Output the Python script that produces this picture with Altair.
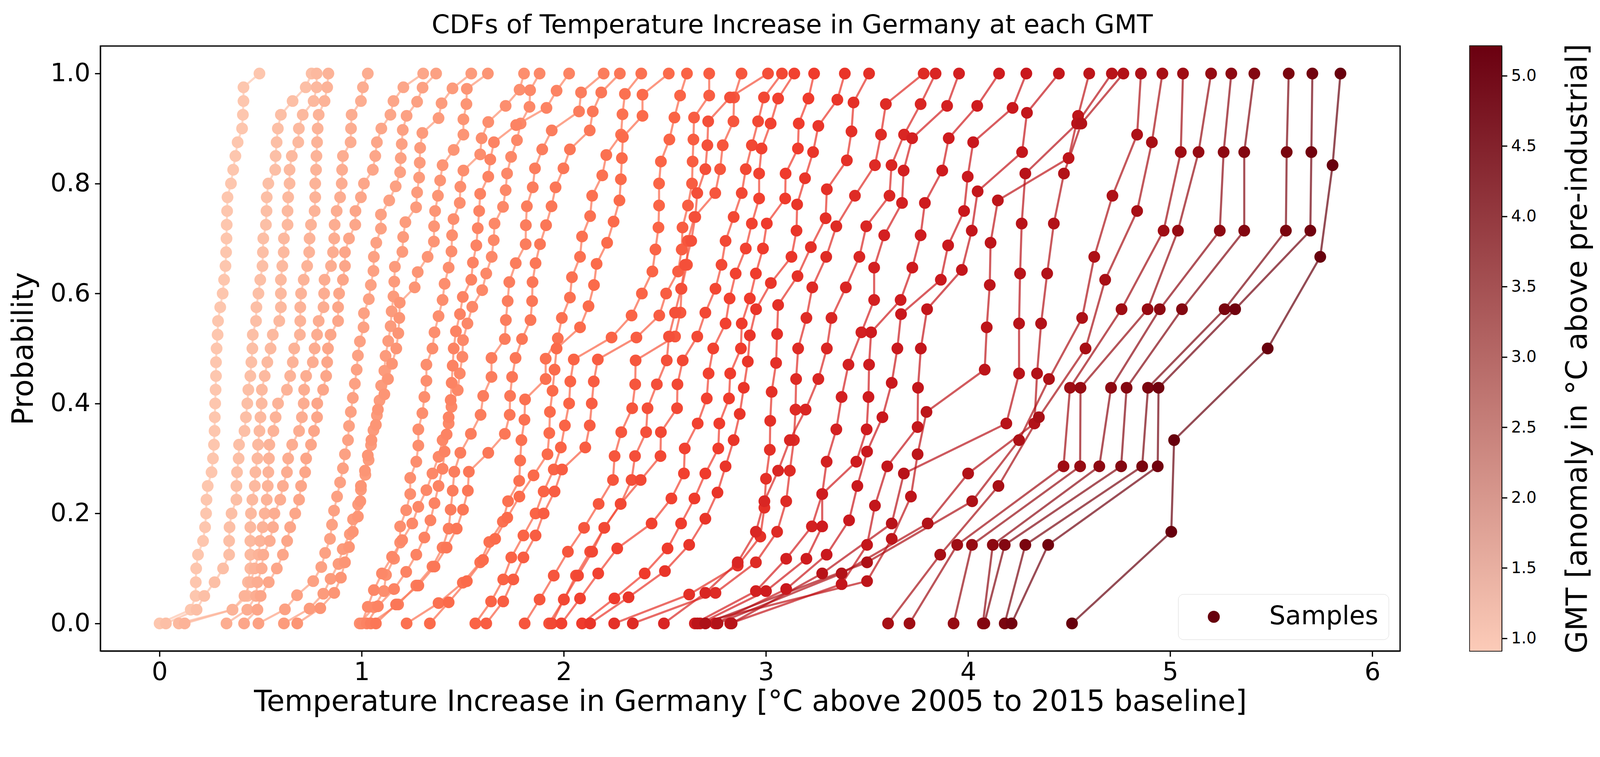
import altair as alt
import pandas as pd

# GMT level of each curve (deg C above pre-industrial)
gmt_levels = [0.91, 1.01, 1.11, 1.21, 1.31, 1.42, 1.52, 1.62, 1.72, 1.83,
              1.93, 2.03, 2.13, 2.23, 2.34, 2.44, 2.54, 2.64, 2.75, 2.85,
              2.95, 3.05, 3.15, 3.26, 3.36, 3.46, 3.56, 3.67, 3.77, 3.87,
              3.97, 4.08, 4.18, 4.28, 4.38, 4.49, 4.59, 4.69, 4.79, 4.90,
              5.00, 5.10, 5.21]

# sorted samples of the temperature increase in Germany, one list per GMT
c01 = [0.0, 0.154, 0.178, 0.179, 0.181, 0.19, 0.215, 0.225, 0.23, 0.232,
       0.238, 0.257, 0.264, 0.269, 0.272, 0.273, 0.275, 0.277, 0.279, 0.279,
       0.282, 0.287, 0.289, 0.30, 0.312, 0.319, 0.326, 0.329, 0.331, 0.332,
       0.334, 0.336, 0.353, 0.364, 0.375, 0.386, 0.408, 0.412, 0.415, 0.415,
       0.494]
c02 = [0.031, 0.183, 0.221, 0.272, 0.314, 0.344, 0.344, 0.346, 0.356, 0.38,
       0.38, 0.383, 0.391, 0.393, 0.42, 0.427, 0.434, 0.439, 0.449, 0.454,
       0.459, 0.461, 0.477, 0.479, 0.489, 0.498, 0.509, 0.511, 0.513, 0.526,
       0.529, 0.53, 0.538, 0.572, 0.574, 0.579, 0.585, 0.6, 0.658, 0.723,
       0.752]
c03 = [0.095, 0.361, 0.434, 0.437, 0.449, 0.449, 0.449, 0.449, 0.452, 0.459,
       0.471, 0.474, 0.484, 0.487, 0.494, 0.499, 0.505, 0.506, 0.52, 0.533,
       0.549, 0.56, 0.592, 0.6, 0.6, 0.6, 0.607, 0.614, 0.615, 0.633,
       0.633, 0.636, 0.643, 0.643, 0.654, 0.686, 0.689, 0.708, 0.762, 0.777,
       0.777]
c04 = [0.124, 0.36, 0.42, 0.45, 0.47, 0.49, 0.497, 0.51, 0.52, 0.53,
       0.535, 0.538, 0.541, 0.543, 0.563, 0.574, 0.586, 0.63, 0.646, 0.659,
       0.666, 0.694, 0.696, 0.696, 0.70, 0.713, 0.73, 0.74, 0.742, 0.749,
       0.767, 0.77, 0.77, 0.774, 0.776, 0.779, 0.782, 0.787, 0.816, 0.829,
       0.835]
c05 = [0.331, 0.434, 0.477, 0.484, 0.505, 0.513, 0.545, 0.561, 0.568, 0.597,
       0.61, 0.63, 0.636, 0.656, 0.69, 0.704, 0.713, 0.715, 0.725, 0.758,
       0.767, 0.779, 0.787, 0.811, 0.814, 0.816, 0.848, 0.858, 0.864, 0.866,
       0.876, 0.893, 0.901, 0.903, 0.907, 0.945, 0.947, 0.95, 0.996, 1.006,
       1.03]
c06 = [0.418, 0.484, 0.50, 0.54, 0.58, 0.61, 0.631, 0.646, 0.671, 0.69,
       0.70, 0.72, 0.725, 0.749, 0.764, 0.779, 0.78, 0.809, 0.824, 0.829,
       0.833, 0.846, 0.883, 0.883, 0.888, 0.907, 0.917, 0.917, 0.937, 0.968,
       0.969, 0.996, 1.011, 1.055, 1.067, 1.075, 1.097, 1.142, 1.157, 1.206,
       1.304]
c07 = [0.489, 0.62, 0.68, 0.76, 0.80, 0.819, 0.843, 0.853, 0.863, 0.878,
       0.893, 0.907, 0.917, 0.932, 0.937, 0.946, 0.956, 0.966, 0.975, 0.981,
       0.991, 1.009, 1.011, 1.035, 1.045, 1.058, 1.06, 1.072, 1.095, 1.095,
       1.136, 1.168, 1.19, 1.193, 1.198, 1.203, 1.222, 1.274, 1.301, 1.368]
c08 = [0.615, 0.742, 0.81, 0.846, 0.885, 0.906, 0.941, 0.957, 0.982, 0.996,
       1.018, 1.034, 1.046, 1.058, 1.075, 1.088, 1.096, 1.112, 1.118, 1.131,
       1.143, 1.148, 1.157, 1.161, 1.164, 1.201, 1.205, 1.216, 1.269, 1.274,
       1.284, 1.287, 1.289, 1.30, 1.38, 1.395, 1.449, 1.542]
c09 = [0.681, 0.795, 0.864, 0.897, 0.917, 0.937, 0.956, 0.981, 0.993, 0.996,
       1.016, 1.03, 1.048, 1.07, 1.08, 1.112, 1.13, 1.15, 1.171, 1.181,
       1.186, 1.188, 1.262, 1.277, 1.326, 1.357, 1.358, 1.363, 1.377, 1.388,
       1.40, 1.455, 1.503, 1.503, 1.518, 1.52, 1.624]
c10 = [0.99, 1.06, 1.11, 1.12, 1.16, 1.19, 1.19, 1.22, 1.24, 1.24,
       1.27, 1.28, 1.28, 1.30, 1.31, 1.32, 1.32, 1.35, 1.36, 1.38,
       1.40, 1.41, 1.43, 1.444, 1.447, 1.454, 1.485, 1.488, 1.503, 1.586,
       1.593, 1.626, 1.712, 1.781, 1.803]
c11 = [1.0, 1.03, 1.06, 1.10, 1.15, 1.20, 1.25, 1.28, 1.32, 1.35,
       1.38, 1.40, 1.43, 1.444, 1.475, 1.485, 1.498, 1.501, 1.523, 1.547,
       1.596, 1.616, 1.643, 1.653, 1.657, 1.699, 1.712, 1.719, 1.739, 1.768,
       1.786, 1.83, 1.833, 1.88]
c12 = [1.025, 1.08, 1.16, 1.22, 1.27, 1.31, 1.34, 1.36, 1.38, 1.40,
       1.41, 1.42, 1.43, 1.44, 1.445, 1.45, 1.455, 1.466, 1.486, 1.50,
       1.542, 1.55, 1.567, 1.574, 1.581, 1.586, 1.626, 1.636, 1.654, 1.764,
       1.914, 1.964, 2.026]
c13 = [1.045, 1.18, 1.27, 1.35, 1.40, 1.43, 1.44, 1.45, 1.458, 1.488,
       1.54, 1.588, 1.601, 1.642, 1.642, 1.708, 1.713, 1.722, 1.73, 1.762,
       1.811, 1.812, 1.817, 1.846, 1.857, 1.893, 1.94, 2.075, 2.085, 2.197]
c14 = [1.07, 1.17, 1.28, 1.36, 1.42, 1.47, 1.501, 1.525, 1.53, 1.626,
       1.708, 1.732, 1.734, 1.744, 1.761, 1.793, 1.835, 1.843, 1.845, 1.86,
       1.882, 1.912, 1.939, 1.959, 1.998, 2.03, 2.128, 2.143, 2.185, 2.277]
c15 = [1.222, 1.38, 1.50, 1.586, 1.631, 1.698, 1.724, 1.779, 1.784, 1.79,
       1.805, 1.808, 1.91, 1.91, 1.97, 1.99, 2.03, 2.04, 2.08, 2.09,
       2.13, 2.14, 2.19, 2.21, 2.283, 2.29, 2.302, 2.383]
c16 = [1.337, 1.43, 1.52, 1.60, 1.66, 1.72, 1.78, 1.85, 1.919, 1.928,
       1.931, 1.944, 1.954, 1.964, 2.08, 2.122, 2.149, 2.162, 2.214, 2.246,
       2.275, 2.282, 2.287, 2.292, 2.389, 2.389, 2.519]
c17 = [1.562, 1.64, 1.70, 1.74, 1.80, 1.86, 1.90, 1.95, 1.985, 2.005,
       2.026, 2.032, 2.049, 2.236, 2.335, 2.386, 2.438, 2.453, 2.468, 2.471,
       2.471, 2.48, 2.522, 2.547, 2.575, 2.609]
c18 = [1.616, 1.70, 1.75, 1.80, 1.86, 1.90, 1.954, 1.991, 2.106, 2.128,
       2.138, 2.148, 2.168, 2.359, 2.472, 2.506, 2.565, 2.583, 2.587, 2.614,
       2.634, 2.637, 2.641, 2.644, 2.719, 2.719]
c19 = [1.806, 1.88, 1.95, 2.02, 2.10, 2.172, 2.243, 2.251, 2.284, 2.338,
       2.353, 2.355, 2.55, 2.577, 2.582, 2.609, 2.613, 2.646, 2.749, 2.773,
       2.786, 2.839, 2.842, 2.879]
c20 = [1.927, 2.0, 2.06, 2.13, 2.20, 2.281, 2.335, 2.352, 2.407, 2.414,
       2.46, 2.509, 2.52, 2.55, 2.58, 2.60, 2.63, 2.65, 2.66, 2.70,
       2.71, 2.714, 2.822, 3.01]
c21 = [1.94, 2.0, 2.07, 2.14, 2.20, 2.281, 2.38, 2.478, 2.48, 2.56,
       2.562, 2.588, 2.66, 2.70, 2.75, 2.78, 2.80, 2.84, 2.88, 2.90,
       2.93, 2.961, 2.99, 3.079]
c22 = [1.988, 2.08, 2.17, 2.264, 2.434, 2.532, 2.594, 2.598, 2.662, 2.707,
       2.716, 2.739, 2.80, 2.82, 2.85, 2.90, 2.93, 2.966, 2.966, 2.978,
       3.023, 3.06, 3.14]
c23 = [2.09, 2.25, 2.40, 2.513, 2.58, 2.646, 2.70, 2.764, 2.769, 2.817,
       2.823, 2.876, 2.88, 2.92, 2.95, 2.985, 3.004, 3.095, 3.097, 3.158,
       3.162, 3.21, 3.238]
c24 = [2.13, 2.32, 2.50, 2.62, 2.70, 2.76, 2.80, 2.84, 2.87, 2.89,
       2.91, 2.92, 2.951, 3.024, 3.126, 3.151, 3.154, 3.193, 3.233, 3.259,
       3.353, 3.39]
c25 = [2.249, 2.62, 2.86, 2.972, 2.992, 3.0, 3.019, 3.021, 3.028, 3.05,
       3.055, 3.06, 3.156, 3.222, 3.295, 3.301, 3.40, 3.423, 3.433, 3.51]
c26 = [2.341, 2.75, 2.95, 3.055, 3.10, 3.118, 3.138, 3.146, 3.149, 3.159,
       3.20, 3.229, 3.298, 3.348, 3.44, 3.539, 3.569, 3.593, 3.78]
c27 = [2.495, 2.70, 2.86, 2.95, 2.992, 3.06, 3.118, 3.196, 3.259, 3.301,
       3.324, 3.395, 3.462, 3.496, 3.611, 3.621, 3.683, 3.765, 3.839]
c28 = [2.648, 2.95, 3.10, 3.227, 3.278, 3.30, 3.348, 3.374, 3.408, 3.472,
       3.535, 3.535, 3.585, 3.673, 3.681, 3.723, 3.896, 3.955]
c29 = [2.674, 3.0, 3.2, 3.278, 3.278, 3.447, 3.498, 3.507, 3.51, 3.52,
       3.666, 3.724, 3.765, 3.786, 3.872, 3.904, 4.045, 4.153]
c30 = [2.749, 3.1, 3.3, 3.411, 3.452, 3.5, 3.576, 3.622, 3.65, 3.668,
       3.865, 3.901, 3.98, 3.998, 4.025, 4.22, 4.288]
c31 = [2.823, 3.374, 3.5, 3.539, 3.6, 3.75, 3.752, 3.766, 3.797, 3.969,
       4.018, 4.047, 4.267, 4.291, 4.449]
c32 = [2.66, 3.5, 3.622, 3.717, 3.75, 3.794, 4.082, 4.092, 4.107, 4.111,
       4.147, 4.497, 4.544, 4.599]
c33 = [2.83, 3.278, 3.622, 3.682, 4.189, 4.252, 4.252, 4.257, 4.265, 4.283,
       4.539, 4.711]
c34 = [2.76, 3.374, 3.80, 4.0, 4.328, 4.341, 4.361, 4.391, 4.424, 4.474,
       4.56, 4.768]
c35 = [2.70, 3.50, 4.02, 4.252, 4.40, 4.564, 4.624, 4.714, 4.836, 4.855]
c36 = [3.604, 3.862, 4.15, 4.35, 4.581, 4.678, 4.836, 4.909, 4.961]
c37 = [3.71, 3.946, 4.472, 4.504, 4.759, 4.967, 5.052, 5.063]
c38 = [3.928, 4.019, 4.554, 4.556, 4.888, 5.038, 5.140, 5.202]
c39 = [4.073, 4.122, 4.649, 4.707, 4.948, 5.245, 5.264, 5.302]
c40 = [4.08, 4.181, 4.757, 4.784, 5.058, 5.366, 5.366, 5.416]
c41 = [4.181, 4.283, 4.861, 4.890, 5.269, 5.572, 5.576, 5.586]
c42 = [4.215, 4.396, 4.938, 4.942, 5.321, 5.693, 5.698, 5.703]
c43 = [4.514, 5.005, 5.019, 5.482, 5.742, 5.803, 5.842]

samples = [c01, c02, c03, c04, c05, c06, c07, c08, c09, c10, c11, c12, c13,
           c14, c15, c16, c17, c18, c19, c20, c21, c22, c23, c24, c25, c26,
           c27, c28, c29, c30, c31, c32, c33, c34, c35, c36, c37, c38, c39,
           c40, c41, c42, c43]

x_ticks = [0, 1, 2, 3, 4, 5, 6]
y_ticks = [0.0, 0.2, 0.4, 0.6, 0.8, 1.0]
cbar_ticks = [1.0, 1.5, 2.0, 2.5, 3.0, 3.5, 4.0, 4.5, 5.0]

# Reds colour map (upper part), with the GMT value each colour sits at
reds_gmt = [0.91, 1.075, 1.764, 2.454, 3.143, 3.832, 4.521, 5.21]
reds_hex = ["#fdc6ae", "#fcbba1", "#fc9272", "#fb6a4a", "#ef3b2c",
            "#cb181d", "#a50f15", "#67000d"]

FONT = "DejaVu Sans"

# empirical CDF: the i-th sorted sample of n sits at probability i / (n - 1)
rows = []
for k, (gmt, xs) in enumerate(zip(gmt_levels, samples)):
    n = len(xs)
    for i, x in enumerate(xs):
        rows.append({"curve": k, "gmt": gmt, "temp": x,
                     "prob": i / (n - 1), "kind": "Samples"})
data = pd.DataFrame(rows)

x_enc = alt.X("temp:Q",
              scale=alt.Scale(domain=[-0.293, 6.137], nice=False, zero=False),
              axis=alt.Axis(values=x_ticks, format="d",
                            title="Temperature Increase in Germany "
                                  "[°C above 2005 to 2015 baseline]",
                            labelPadding=9, titlePadding=8))
y_enc = alt.Y("prob:Q",
              scale=alt.Scale(domain=[-0.05, 1.05], nice=False, zero=False),
              axis=alt.Axis(values=y_ticks, format=".1f", title="Probability",
                            labelPadding=12, titlePadding=30))
color_enc = alt.Color("gmt:Q",
                      scale=alt.Scale(domain=reds_gmt, range=reds_hex,
                                      interpolate="rgb"),
                      legend=None)

base = alt.Chart(data)

lines = base.mark_line(strokeWidth=5.5, opacity=0.7).encode(
    x=x_enc, y=y_enc, color=color_enc,
    detail="curve:N", order="prob:Q"
)

points = base.mark_point(filled=True, size=950, opacity=1,
                         strokeWidth=0).encode(
    x=x_enc, y=y_enc, color=color_enc,
    shape=alt.Shape(
        "kind:N",
        scale=alt.Scale(range=["circle"]),
        legend=alt.Legend(
            title=None, orient="bottom-right", offset=30,
            labelFontSize=67, labelFont=FONT, labelColor="black",
            labelLimit=1000,
            symbolSize=900, symbolFillColor="#67000d",
            symbolStrokeColor="#67000d", symbolOpacity=1,
            symbolOffset=34, labelOffset=112, padding=26,
            strokeColor="#d6d6d6", fillColor="white", cornerRadius=14
        )
    )
)

main = alt.layer(lines, points).properties(
    width=3408, height=1587,
    title=alt.TitleParams(
        "CDFs of Temperature Increase in Germany at each GMT",
        fontSize=68, font=FONT, fontWeight="normal", color="black",
        anchor="middle", dx=110, offset=20
    )
)

# colour bar: one gradient-filled rect spanning the GMT range
cbar_data = pd.DataFrame({"lo": [min(gmt_levels)], "hi": [max(gmt_levels)]})
cbar = alt.Chart(cbar_data).mark_rect(
    color=alt.Gradient(
        gradient="linear",
        stops=[alt.GradientStop(color="#fccbb8", offset=0),
               alt.GradientStop(color="#6b0010", offset=1)],
        x1=0, x2=0, y1=1, y2=0
    )
).encode(
    y=alt.Y("lo:Q",
            scale=alt.Scale(domain=[min(gmt_levels), max(gmt_levels)],
                            nice=False, zero=False),
            axis=alt.Axis(orient="right", values=cbar_ticks, format=".1f",
                          title="GMT [anomaly in °C above pre-industrial]",
                          titleAngle=270, titleBaseline="top",
                          titleFontSize=77,
                          labelFontSize=42, labelPadding=10,
                          titlePadding=70)),
    y2="hi:Q"
).properties(width=83, height=1587)

chart = alt.hconcat(main, cbar, spacing=183, bounds="flush").resolve_scale(
    x="independent", y="independent"
).resolve_legend(
    shape="independent"
).properties(
    padding={"left": 14, "top": 0, "right": 10, "bottom": 10}
).configure(
    font=FONT, background="white"
).configure_view(
    stroke="black", strokeWidth=3.3
).configure_axis(
    grid=False, domainColor="black", domainWidth=3.3,
    tickColor="black", tickWidth=3.3, tickSize=14.6,
    labelFont=FONT, labelFontSize=66, labelColor="black",
    titleFont=FONT, titleFontSize=76, titleFontWeight="normal",
    titleColor="black"
)

chart.save("out.html", embed_options={"renderer": "svg", "actions": False})
